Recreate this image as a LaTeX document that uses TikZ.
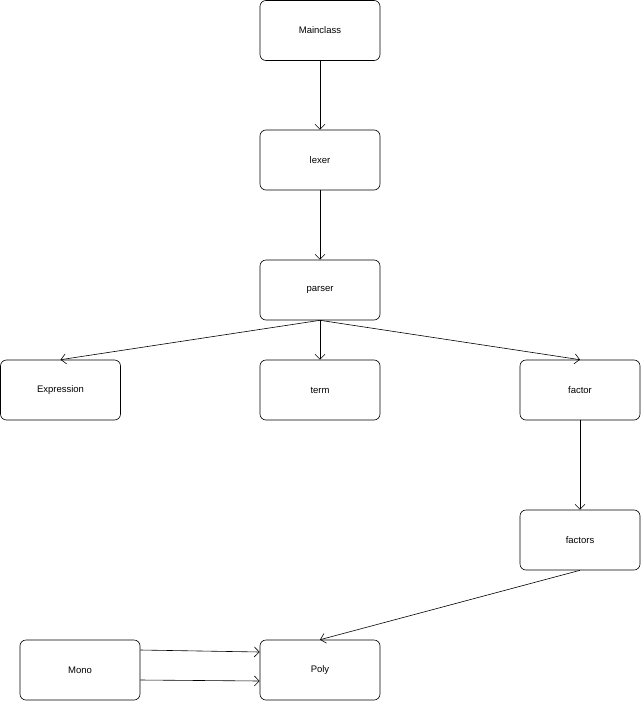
\documentclass[tikz,border=0pt]{standalone}
\usepackage{fontspec}
\setmainfont{Liberation Sans}
\usetikzlibrary{arrows.meta}
\begin{document}
\begin{tikzpicture}[x=1pt,y=-1pt,
  box/.style={draw,line width=0.6pt,rounded corners=6pt,minimum width=120pt,minimum height=60pt,inner sep=0pt,font=\fontsize{9.5}{11}\selectfont},
  arr/.style={-{Straight Barb[length=5pt,width=10pt]},line width=0.6pt}]
\useasboundingbox (0,0) rectangle (641,701);
\node[box] (main) at (320,30.5) {Mainclass};
\node[box] (lexer) at (320,160) {lexer};
\node[box] (parser) at (320,290) {parser};
\node[box] (expr) at (60.5,390) {Expression};
\node[box] (term) at (320,390) {term};
\node[box] (factor) at (580,390) {factor};
\node[box] (factors) at (580,540) {factors};
\node[box] (mono) at (80,670) {Mono};
\node[box] (poly) at (320,670) {Poly};
\draw[arr] (main.south) -- (lexer.north);
\draw[arr] (lexer.south) -- (parser.north);
\draw[arr] (parser.south) -- (expr.north);
\draw[arr] (parser.south) -- (term.north);
\draw[arr] (parser.south) -- (factor.north);
\draw[arr] (factor.south) -- (factors.north);
\draw[arr] (factors.south) -- (poly.north);
\draw[arr] ([yshift=20pt]mono.east) -- ([yshift=18pt]poly.west);
\draw[arr] ([yshift=-10pt]mono.east) -- ([yshift=-11pt]poly.west);
\end{tikzpicture}
\end{document}
